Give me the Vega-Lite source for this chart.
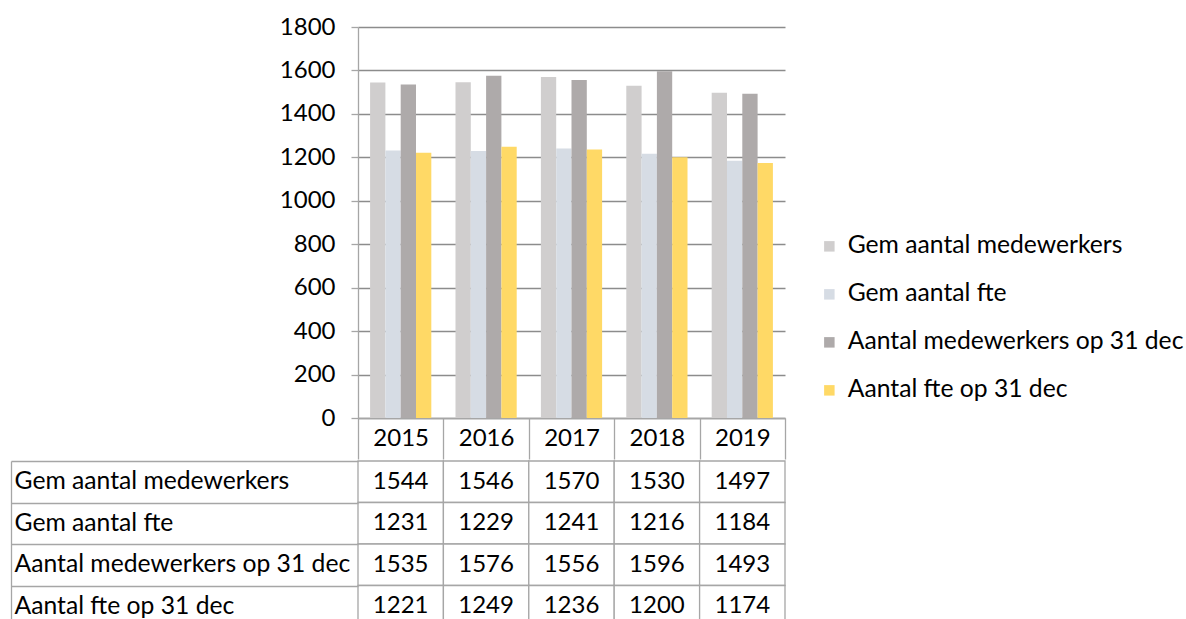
{
  "$schema": "https://vega.github.io/schema/vega-lite/v6.json",
  "padding": {"left": 10, "top": 15, "right": 0, "bottom": 0},
  "background": "white",
  "spacing": -12,
  "config": {
    "font": "Lato",
    "view": {"stroke": null},
    "axis": {"labelFont": "Lato", "labelColor": "#000000", "labelFontSize": 24}
  },
  "data": {
    "values": [
      {"year": "2015", "series": "Gem aantal medewerkers", "value": 1544},
      {"year": "2016", "series": "Gem aantal medewerkers", "value": 1546},
      {"year": "2017", "series": "Gem aantal medewerkers", "value": 1570},
      {"year": "2018", "series": "Gem aantal medewerkers", "value": 1530},
      {"year": "2019", "series": "Gem aantal medewerkers", "value": 1497},
      {"year": "2015", "series": "Gem aantal fte", "value": 1231},
      {"year": "2016", "series": "Gem aantal fte", "value": 1229},
      {"year": "2017", "series": "Gem aantal fte", "value": 1241},
      {"year": "2018", "series": "Gem aantal fte", "value": 1216},
      {"year": "2019", "series": "Gem aantal fte", "value": 1184},
      {"year": "2015", "series": "Aantal medewerkers op 31 dec", "value": 1535},
      {"year": "2016", "series": "Aantal medewerkers op 31 dec", "value": 1576},
      {"year": "2017", "series": "Aantal medewerkers op 31 dec", "value": 1556},
      {"year": "2018", "series": "Aantal medewerkers op 31 dec", "value": 1596},
      {"year": "2019", "series": "Aantal medewerkers op 31 dec", "value": 1493},
      {"year": "2015", "series": "Aantal fte op 31 dec", "value": 1221},
      {"year": "2016", "series": "Aantal fte op 31 dec", "value": 1249},
      {"year": "2017", "series": "Aantal fte op 31 dec", "value": 1236},
      {"year": "2018", "series": "Aantal fte op 31 dec", "value": 1200},
      {"year": "2019", "series": "Aantal fte op 31 dec", "value": 1174}
    ]
  },
  "vconcat": [
    {
      "width": 427,
      "height": 391,
      "mark": {"type": "bar"},
      "encoding": {
        "x": {
          "field": "year", "type": "ordinal",
          "scale": {"paddingInner": 0, "paddingOuter": 0},
          "axis": {
            "title": null, "labelAngle": 0, "tickBand": "extent", "tickSize": 41,
            "labelPadding": -21, "labelBaseline": "middle",
            "domainColor": "#a6a6a6", "tickColor": "#a6a6a6", "domainWidth": 1.3, "tickWidth": 1.3
          }
        },
        "xOffset": {
          "field": "series", "type": "nominal",
          "scale": {"domain": ["Gem aantal medewerkers", "Gem aantal fte", "Aantal medewerkers op 31 dec", "Aantal fte op 31 dec"], "paddingInner": 0, "paddingOuter": 0.79}
        },
        "y": {
          "field": "value", "type": "quantitative",
          "scale": {"domain": [0, 1800], "nice": false},
          "axis": {
            "title": null, "format": "d", "values": [0, 200, 400, 600, 800, 1000, 1200, 1400, 1600, 1800],
            "tickSize": 7, "labelPadding": 16, "grid": true, "gridColor": "#8c8c8c", "gridWidth": 1.3,
            "domainColor": "#a6a6a6", "tickColor": "#a6a6a6", "domainWidth": 1.3, "tickWidth": 1.3
          }
        },
        "color": {
          "field": "series", "type": "nominal",
          "scale": {
            "domain": ["Gem aantal medewerkers", "Gem aantal fte", "Aantal medewerkers op 31 dec", "Aantal fte op 31 dec"],
            "range": ["#D0CECE", "#D6DCE4", "#AEAAAA", "#FFD966"]
          },
          "legend": {
            "title": null, "orient": "none", "legendX": 459, "legendY": 207,
            "symbolType": "square", "symbolSize": 110, "symbolStrokeWidth": 0,
            "labelFontSize": 24.7, "labelFont": "Lato", "labelColor": "#000000", "rowPadding": 22, "labelOffset": 6, "labelLimit": 500
          }
        }
      }
    },
    {
      "width": 427,
      "height": 166,
      "encoding": {
        "x": {"field": "year", "type": "ordinal", "scale": {"paddingInner": 0, "paddingOuter": 0}, "axis": null},
        "y": {
          "field": "series", "type": "nominal",
          "scale": {"domain": ["Gem aantal medewerkers", "Gem aantal fte", "Aantal medewerkers op 31 dec", "Aantal fte op 31 dec"], "paddingInner": 0, "paddingOuter": 0},
          "axis": {
            "title": null, "offset": 347, "tickSize": -347, "tickBand": "extent",
            "labelAlign": "left", "labelPadding": 344, "labelFontSize": 24.7, "labelLimit": 500,
            "domainColor": "#a6a6a6", "tickColor": "#a6a6a6", "domainWidth": 1.3, "tickWidth": 1.3
          }
        }
      },
      "layer": [
        {"mark": {"type": "rect", "fill": "white", "stroke": "#a6a6a6", "strokeWidth": 1.3}},
        {"mark": {"type": "text", "fontSize": 24, "font": "Lato", "color": "#000000"}, "encoding": {"text": {"field": "value", "type": "quantitative", "format": "d"}}}
      ]
    }
  ]
}
